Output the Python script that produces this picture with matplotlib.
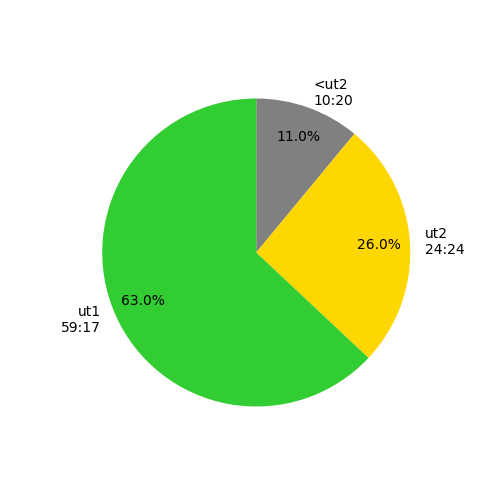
import matplotlib
matplotlib.use("Agg")
import matplotlib.pyplot as plt

# 各区间用时（分:秒）与占比（%）
labels = ["<ut2", "ut2", "ut1"]
times = ["10:20", "24:24", "59:17"]
percents = [11.0, 26.0, 63.0]
colors = ["gray", "gold", "limegreen"]

names = ["%s\n%s" % (l, t) for l, t in zip(labels, times)]

fig, ax = plt.subplots(figsize=(5, 5), dpi=100)
ax.pie(percents, labels=names, colors=colors, autopct="%1.1f%%",
       pctdistance=0.8, startangle=90, counterclock=False)
fig.savefig("out.png")
